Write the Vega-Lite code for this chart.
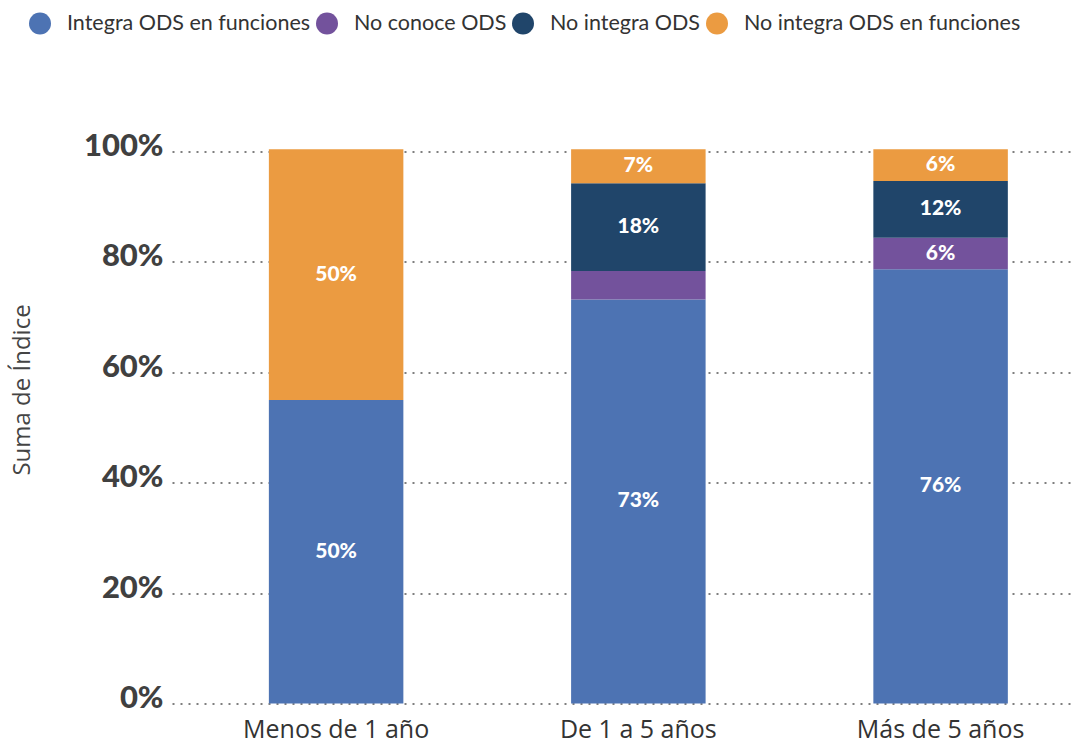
{
  "$schema": "https://vega.github.io/schema/vega-lite/v6.json",
  "width": 904,
  "height": 552,
  "autosize": {"type": "none"},
  "padding": {"left": 172, "top": 151.5, "right": 0, "bottom": 43.5},
  "background": "#ffffff",
  "config": {"view": {"stroke": null}},
  "data": {
    "values": [
      {"grupo": "Menos de 1 año", "serie": "Integra ODS en funciones", "valor": 55.0, "etiqueta": "50%"},
      {"grupo": "Menos de 1 año", "serie": "No integra ODS en funciones", "valor": 45.4, "etiqueta": "50%"},
      {"grupo": "De 1 a 5 años", "serie": "Integra ODS en funciones", "valor": 73.2, "etiqueta": "73%"},
      {"grupo": "De 1 a 5 años", "serie": "No conoce ODS", "valor": 5.15, "etiqueta": ""},
      {"grupo": "De 1 a 5 años", "serie": "No integra ODS", "valor": 15.9, "etiqueta": "18%"},
      {"grupo": "De 1 a 5 años", "serie": "No integra ODS en funciones", "valor": 6.15, "etiqueta": "7%"},
      {"grupo": "Más de 5 años", "serie": "Integra ODS en funciones", "valor": 78.66, "etiqueta": "76%"},
      {"grupo": "Más de 5 años", "serie": "No conoce ODS", "valor": 5.72, "etiqueta": "6%"},
      {"grupo": "Más de 5 años", "serie": "No integra ODS", "valor": 10.28, "etiqueta": "12%"},
      {"grupo": "Más de 5 años", "serie": "No integra ODS en funciones", "valor": 5.74, "etiqueta": "6%"}
    ]
  },
  "encoding": {
    "x": {
      "field": "grupo",
      "type": "nominal",
      "sort": ["Menos de 1 año", "De 1 a 5 años", "Más de 5 años"],
      "scale": {"paddingInner": 0.555, "paddingOuter": 0.273, "align": 0.587},
      "axis": {
        "title": null,
        "domain": false,
        "ticks": false,
        "labelAngle": 0,
        "labelFont": "Open Sans",
        "labelFontSize": 25,
        "labelLimit": 0,
        "labelColor": "#333333",
        "labelPadding": 14
      }
    }
  },
  "layer": [
    {
      "mark": {"type": "bar"},
      "encoding": {
        "y": {
          "field": "valor",
          "type": "quantitative",
          "stack": "zero",
          "scale": {"domain": [0, 100], "nice": false, "zero": true},
          "axis": {
            "title": "Suma de Índice",
            "titleFont": "Open Sans",
            "titleFontWeight": "normal",
            "titleFontSize": 24,
            "titleColor": "#444444",
            "titleAngle": -90,
            "titleAlign": "center",
            "titleBaseline": "middle",
            "titleX": -150,
            "titleY": 238,
            "values": [0, 20, 40, 60, 80, 100],
            "labelExpr": "datum.value + '%'",
            "labelFont": "Lato",
            "labelFontWeight": 900,
            "labelFontSize": 31,
            "labelColor": "#404040",
            "labelPadding": 9,
            "labelOffset": -5,
            "domain": false,
            "ticks": false,
            "grid": true,
            "gridDash": [2, 6],
            "gridColor": "#555555",
            "gridWidth": 1.5
          }
        },
        "order": {"field": "serie", "sort": "ascending"},
        "color": {
          "field": "serie",
          "type": "nominal",
          "scale": {
            "domain": ["Integra ODS en funciones", "No conoce ODS", "No integra ODS", "No integra ODS en funciones"],
            "range": ["#4D73B3", "#73529C", "#20456A", "#EB9B41"]
          },
          "legend": {
            "title": null,
            "orient": "none",
            "direction": "horizontal",
            "legendX": -143,
            "legendY": -139,
            "symbolType": "circle",
            "symbolSize": 484,
            "symbolStrokeWidth": 0,
            "symbolOpacity": 1,
            "labelFont": "Lato",
            "labelFontSize": 21.5,
            "labelLimit": 0,
            "labelColor": "#333333",
            "labelOffset": 16,
            "columnPadding": 5
          }
        }
      }
    },
    {
      "transform": [
        {"stack": "valor", "groupby": ["grupo"], "sort": [{"field": "serie", "order": "ascending"}], "as": ["v0", "v1"]},
        {"calculate": "(datum.v0 + datum.v1) / 2", "as": "medio"}
      ],
      "mark": {"type": "text", "font": "Lato", "fontWeight": 900, "fontSize": 21, "color": "#ffffff", "baseline": "middle", "align": "center"},
      "encoding": {
        "y": {"field": "medio", "type": "quantitative"},
        "text": {"field": "etiqueta", "type": "nominal"}
      }
    }
  ]
}
